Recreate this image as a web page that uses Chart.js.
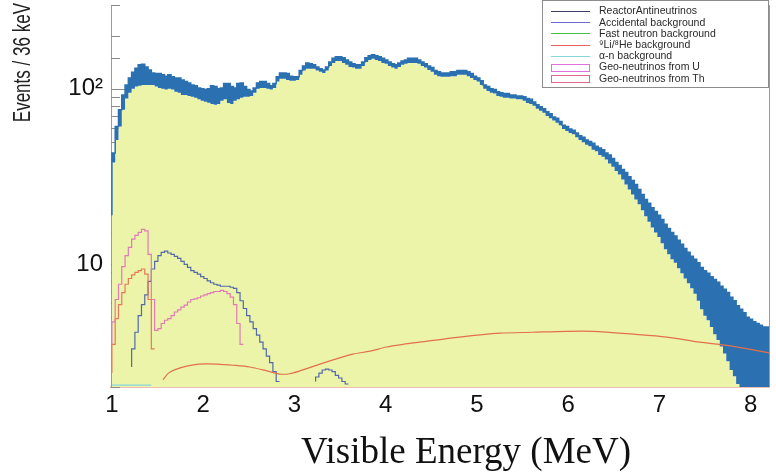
<!DOCTYPE html>
<html>
<head>
<meta charset="utf-8">
<script src="https://cdn.jsdelivr.net/npm/chart.js@4.4.1/dist/chart.umd.min.js"></script>
<style>
html,body{margin:0;padding:0;background:#fff;}
#c{display:block;}
</style>
</head>
<body>
<canvas id="c" width="776" height="476"></canvas>
<script>
// 36 keV bins starting at 1 MeV
const binStart = 1.0, binWidth = 0.036;
const xTickValues = [1, 2, 3, 4, 5, 6, 7, 8];
const yTickLabels = {10: '10', 100: '10²'};

// reactor spectrum: top of the yellow area and top of the blue band
const reactorLow = [
  16, 38, 51, 61, 76, 88, 95, 100, 103, 104, 105, 105, 105, 105, 103, 101, 100, 99, 100, 99,
  96, 95, 92, 92, 91, 90, 89, 87, 85.5, 84.4, 83.3, 82, 81, 82, 85.5, 87, 83, 82, 85.5, 87,
  89, 90, 90, 91, 95, 100, 101, 101, 100, 99, 101, 110, 114, 114, 112, 111, 111, 112, 120, 127,
  130, 130, 130, 127, 125, 123, 127, 135, 140, 144, 144, 140, 137, 133, 132, 130, 130, 135, 142, 146,
  148, 146, 144, 140, 139, 135, 132, 130, 133, 137, 139, 140, 140, 140, 139, 135, 132, 128, 125, 120,
  118, 117, 117, 117, 118, 118, 120, 120, 120, 118, 115, 112, 110, 105, 100, 97, 95, 94, 91, 90,
  89, 89, 88, 88, 87, 87, 85.5, 83, 82, 80, 77, 75, 73, 70, 68, 66, 64, 62, 59, 57.5,
  56, 55, 53, 51, 49.5, 48, 47, 45, 44, 42, 41, 39.5, 37.5, 36, 34, 32.5, 30.4, 28.5, 26.7, 25,
  23.4, 22, 20.3, 18.8, 17.5, 16.2, 15.2, 14.3, 13.2, 12.2, 11.4, 10.7, 10.2, 9.5, 8.9, 8.3, 7.8, 7.3, 6.8, 6.2,
  5.55, 5.1, 4.8, 4.4, 4.0, 3.7, 3.4, 3.1, 2.8, 2.5, 2.3, 2.08, 1.8, 1.5, 1.2, 1.0, 0.8, 0.6, 0.5, 0.4
];
const reactorHigh = [
  19, 43, 61, 76, 92, 105, 115, 124, 131, 137, 138, 133, 128, 123, 122, 122, 120, 118, 120, 117,
  115, 115, 112, 110, 108, 105, 104, 101, 100, 99, 100, 104, 103, 100, 101, 107, 107, 103, 101, 107,
  108, 103, 99, 97, 101, 108, 110, 110, 107, 104, 107, 117, 123, 123, 122, 118, 117, 117, 127, 135,
  140, 139, 137, 133, 130, 128, 133, 142, 149, 152, 152, 150, 146, 142, 139, 137, 137, 142, 150, 154,
  156, 154, 152, 149, 146, 142, 139, 137, 140, 144, 146, 149, 149, 149, 146, 142, 139, 135, 132, 127,
  125, 123, 123, 123, 125, 125, 127, 127, 127, 125, 122, 118, 115, 111, 105, 103, 100, 99, 96, 95,
  94, 94, 92, 92, 91, 91, 90, 88, 87, 84, 81, 79, 77, 74, 72, 69, 68, 65, 62, 61,
  59, 58, 56, 54, 53, 51, 50, 49, 47, 46, 45, 43, 42, 40, 38, 36.5, 34.7, 33.3, 31.5, 30,
  28.5, 26.7, 25, 23.4, 22.3, 21, 20, 19, 18, 16.9, 16, 15.2, 14.5, 13.7, 13, 12.3, 11.7, 11.1, 10.7, 10.2,
  9.6, 9.2, 8.9, 8.5, 8.2, 7.9, 7.5, 7.2, 6.9, 6.5, 6.2, 5.8, 5.55, 5.3, 5.0, 4.87, 4.7, 4.6, 4.5, 4.4
];

// backgrounds, same binning, first bin at 1 MeV
const accidental = [
  0, 0, 0, 0, 0, 0, 2.6, 3.3, 4.1, 5.1, 5.9, 6.7, 8.0, 9.4, 10.4, 11.2, 11.7, 11.9, 11.6, 11.4,
  11.1, 10.8, 10.4, 10.0, 9.6, 9.2, 9.0, 8.8, 8.5, 8.3, 8.05, 7.85, 7.7, 7.6, 7.5, 7.5, 7.5, 7.4, 7.3, 6.9,
  6.2, 5.6, 5.1, 4.7, 4.3, 3.95, 3.6, 3.3, 3.0, 2.75, 2.45, 2.15, 0, 0, 0, 0, 0, 0, 0, 0,
  0, 0, 2.15, 2.28, 2.4, 2.5, 2.53, 2.5, 2.45, 2.33, 2.25, 2.15, 2.08, 0
];
const fastNeutron = [];
const alphaN = [2.05, 2.05, 2.05, 2.05, 2.05, 2.05, 2.05, 2.05, 2.05, 2.05, 2.05, 2.05, 2.05, 0];
const geoU = [
  3.5, 4.7, 6.3, 7.7, 9.7, 11.2, 12.5, 13.9, 14.6, 15.2, 15.8, 15.5, 11.4, 6.3, 4.2, 4.3, 4.6, 4.8, 4.9, 5.1,
  5.35, 5.5, 5.7, 5.85, 6.1, 6.3, 6.35, 6.45, 6.6, 6.7, 6.8, 6.9, 7.0, 7.0, 7.1, 7.0, 6.8, 6.5, 5.9, 4.6,
  3.5, 0
];
const geoTh = [2.4, 3.5, 4.9, 5.9, 6.9, 7.7, 8.3, 8.7, 9.0, 9.2, 9.4, 8.8, 6.3, 3.3, 0];

// 9Li/8He is a smooth curve
const liHeEnergy = [1.56, 1.56, 1.62, 1.7, 1.82, 1.95, 2.15, 2.33, 2.51, 2.7, 2.84, 2.95, 3.06, 3.28, 3.46,
  3.64, 3.83, 4.01, 4.19, 4.37, 4.81, 5.25, 5.61, 5.98, 6.27, 6.71, 7.08, 7.44, 7.74, 8.2];
const liHe = [0, 2.2, 2.4, 2.52, 2.63, 2.7, 2.7, 2.66, 2.6, 2.47, 2.37, 2.38, 2.47, 2.7, 2.89,
  3.08, 3.2, 3.38, 3.5, 3.6, 3.85, 4.05, 4.1, 4.15, 4.15, 4.0, 3.85, 3.6, 3.45, 3.13];

function hist(vals, fromZero) {
  const pts = fromZero ? [{x: binStart, y: 0}] : [];
  vals.forEach((v, i) => pts.push({x: binStart + i * binWidth, y: v}));
  if (vals.length) pts.push({x: binStart + vals.length * binWidth, y: vals[vals.length - 1]});
  return pts;
}

const bgLine = (label, data, color, style, order, legendColor) => ({
  label, data, borderColor: color, backgroundColor: color, borderWidth: 1.2,
  stepped: 'after', fill: false, pointRadius: 0, legendStyle: style, legendColor, order
});

// ROOT style inner ticks on the log axis
const innerTicks = {
  id: 'innerTicks',
  beforeDatasetsDraw(chart) {
    const {ctx, chartArea} = chart, y = chart.scales.y;
    ctx.save();
    ctx.strokeStyle = '#8a8a8a';
    ctx.lineWidth = 1;
    y.ticks.forEach(t => {
      const py = Math.round(y.getPixelForValue(t.value)) + 0.5;
      const len = yTickLabels[t.value] ? 16 : 9;
      ctx.beginPath();
      ctx.moveTo(chartArea.left, py);
      ctx.lineTo(chartArea.left + len, py);
      ctx.stroke();
    });
    ctx.restore();
  }
};

const frameAndLegend = {
  id: 'frameAndLegend',
  afterDatasetsDraw(chart) {
    const {ctx, chartArea} = chart;
    ctx.save();
    ctx.strokeStyle = '#9a9a9a';
    ctx.lineWidth = 1;
    ctx.beginPath();
    ctx.moveTo(chartArea.right + 0.5, chartArea.top);
    ctx.lineTo(chartArea.right + 0.5, chartArea.bottom);
    ctx.stroke();

    // legend box
    const bx = 542.5, by = 0.5, bw = 226, bh = 87;
    ctx.fillStyle = '#fff';
    ctx.fillRect(bx, by, bw, bh);
    ctx.strokeStyle = '#8c8c8c';
    ctx.strokeRect(bx, by, bw, bh);
    ctx.font = '10.5px "Liberation Sans", Arial, sans-serif';
    ctx.textBaseline = 'middle';
    ctx.textAlign = 'left';
    let row = 0;
    chart.data.datasets.forEach(ds => {
      if (!ds.legendStyle) return;
      const cy = 11 + row * 11.2;
      ctx.strokeStyle = ds.legendColor || ds.borderColor;
      ctx.lineWidth = 1;
      if (ds.legendStyle === 'box') {
        ctx.strokeRect(551.5, Math.round(cy - 3.5) + 0.5, 38, 7);
      } else {
        ctx.beginPath();
        ctx.moveTo(551, Math.round(cy) + 0.5);
        ctx.lineTo(590, Math.round(cy) + 0.5);
        ctx.stroke();
      }
      ctx.fillStyle = '#2a2a2a';
      ctx.fillText(ds.label, 599, cy + 0.5);
      row++;
    });

    // axis titles (the y title is set in a narrow face in the original)
    ctx.fillStyle = '#111';
    ctx.font = '37px "Liberation Serif", "Times New Roman", serif';
    ctx.textAlign = 'center';
    ctx.textBaseline = 'alphabetic';
    ctx.fillText('Visible Energy (MeV)', 466, 463);

    ctx.translate(30, 3);
    ctx.rotate(-Math.PI / 2);
    ctx.scale(0.74, 1);
    ctx.fillStyle = '#222';
    ctx.font = '23px "Liberation Sans", Arial, sans-serif';
    ctx.textAlign = 'right';
    ctx.fillText('Events / 36 keV', 0, 0);
    ctx.restore();
  }
};

new Chart(document.getElementById('c'), {
  type: 'line',
  data: {
    datasets: [
      {label: 'ReactorAntineutrinos', data: hist(reactorLow), stepped: 'after', borderWidth: 0,
       borderColor: '#ebf4a9', backgroundColor: '#ebf4a9', fill: 'start', pointRadius: 0,
       legendStyle: 'line', legendColor: '#3c3c66', order: 10},
      {label: 'Reactor band', data: hist(reactorHigh), stepped: 'after', borderWidth: 1.5,
       borderColor: '#2b71b1', backgroundColor: '#2b71b1', fill: '-1', pointRadius: 0, order: 9},
      bgLine('Accidental background', hist(accidental), '#5468aa', 'line', 3, '#6a6ad0'),
      bgLine('Fast neutron background', hist(fastNeutron), '#44c044', 'line', 3),
      {label: '⁹Li/⁸He background', data: liHeEnergy.map((e, i) => ({x: e, y: liHe[i]})),
       borderColor: '#e2704c', borderWidth: 1.2, fill: false, pointRadius: 0, tension: 0.3,
       legendStyle: 'line', legendColor: '#ee6060', order: 2},
      bgLine('α-n background', hist(alphaN, true), '#86d6df', 'line', 4),
      bgLine('Geo-neutrinos from U', hist(geoU, true), '#e27ab8', 'box', 1, '#e070e0'),
      bgLine('Geo-neutrinos from Th', hist(geoTh, true), '#e8785c', 'box', 1, '#e0688a')
    ]
  },
  options: {
    responsive: false,
    animation: false,
    layout: {padding: {left: 0, right: 7, top: 5, bottom: 0}},
    plugins: {legend: {display: false}, tooltip: {enabled: false}},
    scales: {
      x: {
        type: 'linear', min: 0.99, max: 8.2,
        afterBuildTicks: s => { s.ticks = xTickValues.map(v => ({value: v})); },
        afterFit: s => { s.height = 89; s.paddingLeft = 0; s.paddingRight = 0; },
        grid: {display: false, drawTicks: false},
        border: {display: true, color: '#f1bdb2', width: 2},
        ticks: {color: '#111', font: {family: '"Liberation Sans", Arial, sans-serif', size: 24}, padding: 4,
                maxRotation: 0, autoSkip: false}
      },
      y: {
        type: 'logarithmic', min: 2, max: 300,
        afterFit: s => { s.width = 111; s.paddingTop = 0; s.paddingBottom = 0; },
        grid: {display: false, drawTicks: false},
        border: {display: true, color: '#9a9a9a', width: 1},
        ticks: {color: '#111', font: {family: '"Liberation Sans", Arial, sans-serif', size: 24}, padding: 8,
                autoSkip: false, callback: v => yTickLabels[v] || ''}
      }
    }
  },
  plugins: [innerTicks, frameAndLegend]
});
</script>
</body>
</html>
